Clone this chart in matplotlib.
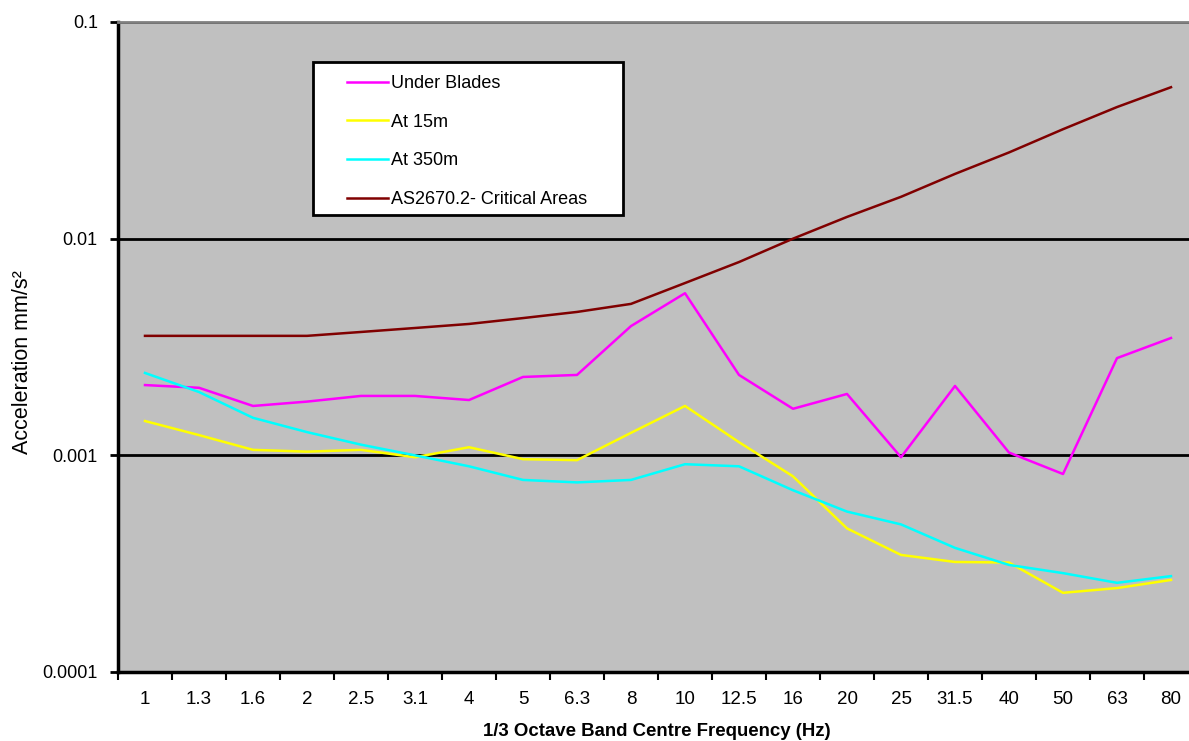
import matplotlib
matplotlib.use("Agg")
import matplotlib.pyplot as plt
from matplotlib.ticker import FixedLocator, NullLocator, FixedFormatter
from matplotlib.patches import Rectangle

plt.rcParams['font.family'] = ['Liberation Sans', 'DejaVu Sans']

freq_labels = ["1", "1.3", "1.6", "2", "2.5", "3.1", "4", "5", "6.3", "8",
               "10", "12.5", "16", "20", "25", "31.5", "40", "50", "63", "80"]

under_blades = [0.00211, 0.00205, 0.00169, 0.00177, 0.00188, 0.00188, 0.00180,
                0.00230, 0.00235, 0.00395, 0.00560, 0.00235, 0.00164, 0.00192,
                0.00098, 0.00209, 0.00103, 0.00082, 0.00281, 0.00348]
at_15m = [0.00144, 0.00124, 0.00106, 0.00104, 0.00106, 0.00098, 0.00109,
          0.00096, 0.00095, 0.00127, 0.00169, 0.00115, 0.00080, 0.00046,
          0.000347, 0.000322, 0.000320, 0.000232, 0.000244, 0.000266]
at_350m = [0.00240, 0.00196, 0.00149, 0.00128, 0.00112, 0.00100, 0.00089,
           0.00077, 0.00075, 0.00077, 0.00091, 0.00089, 0.00069, 0.00055,
           0.00048, 0.000374, 0.000312, 0.000286, 0.000258, 0.000277]
critical = [0.00356, 0.00356, 0.00356, 0.00356, 0.00371, 0.00387, 0.00404,
            0.00430, 0.00459, 0.00500, 0.00624, 0.00780, 0.01000, 0.01260,
            0.01560, 0.01990, 0.02500, 0.03200, 0.04050, 0.05000]

series_names = ["Under Blades", "At 15m", "At 350m", "AS2670.2- Critical Areas"]
series_colors = ["#FF00FF", "#FFFF00", "#00FFFF", "#800000"]

W, H = 1189, 741
fig = plt.figure(figsize=(W / 100, H / 100), dpi=100)
ax = fig.add_axes([118 / W, 1 - 672 / H, 1080 / W, 650 / H])
ax.set_facecolor("#C0C0C0")

x = list(range(len(freq_labels)))
handles = []
for vals, name, col in zip([under_blades, at_15m, at_350m, critical], series_names, series_colors):
    h, = ax.plot(x, vals, color=col, lw=1.8, label=name, zorder=3)
    handles.append(h)

ax.set_yscale('log')
ax.set_ylim(0.0001, 0.1)
ax.set_xlim(-0.5, len(freq_labels) - 0.5)

ax.yaxis.set_major_locator(FixedLocator([0.0001, 0.001, 0.01, 0.1]))
ax.yaxis.set_major_formatter(FixedFormatter(["0.0001", "0.001", "0.01", "0.1"]))
ax.yaxis.set_minor_locator(NullLocator())
ax.tick_params(axis='y', which='major', direction='out', length=6, width=2,
               pad=8.5, labelsize=13, colors='black')

ax.xaxis.set_major_locator(FixedLocator(x))
ax.xaxis.set_major_formatter(FixedFormatter(freq_labels))
ax.xaxis.set_minor_locator(FixedLocator([i - 0.5 for i in range(len(freq_labels) + 1)]))
ax.tick_params(axis='x', which='major', length=0, pad=13.5, labelsize=13.5)
ax.tick_params(axis='x', which='minor', direction='out', length=6, width=1.5)

ax.grid(True, axis='y', which='major', color='black', lw=2)
ax.set_axisbelow(True)

ax.spines['left'].set_linewidth(2.5)
ax.spines['bottom'].set_linewidth(2.5)
ax.spines['top'].set_color('#808080')
ax.spines['top'].set_linewidth(2)
ax.spines['top'].set_zorder(4)
ax.spines['right'].set_visible(False)

# legend box
rect = Rectangle((313 / W, 1 - 215 / H), 310 / W, 153 / H, transform=fig.transFigure,
                 facecolor='white', edgecolor='black', lw=2, zorder=5)
fig.add_artist(rect)
leg = fig.legend(handles=handles, labels=series_names, loc='upper left',
                 bbox_to_anchor=(347 / W, 1 - 75 / H), frameon=False,
                 fontsize=13, handlelength=2.25, handletextpad=0.2,
                 labelspacing=1.2, borderpad=0, borderaxespad=0)
leg.set_zorder(6)

fig.text(23 / W, 1 - 362 / H, "Acceleration mm/s²", rotation=90,
         ha='center', va='center', fontsize=15.5)
fig.text(657 / W, 1 - 731 / H, "1/3 Octave Band Centre Frequency (Hz)",
         ha='center', va='center', fontsize=13.4, fontweight='bold')

fig.savefig("out.png", dpi=100)
